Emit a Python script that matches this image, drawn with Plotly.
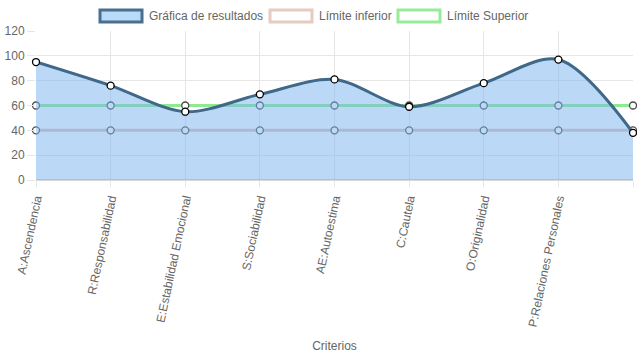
import plotly.graph_objects as go

categorias = ["A:Ascendencia", "R:Responsabilidad", "E:Estabilidad Emocional", "S:Sociabilidad",
              "AE:Autoestima", "C:Cautela", "O:Originalidad", "P:Relaciones Personales", "V:Vigor"]
resultados = [95, 76, 55, 69, 81, 59, 78, 97, 38]
limite_inferior = [40, 40, 40, 40, 40, 40, 40, 40, 40]
limite_superior = [60, 60, 60, 60, 60, 60, 60, 60, 60]
y_ticks = [0, 20, 40, 60, 80, 100, 120]
series_nombres = ["Gráfica de resultados", "Límite inferior", "Límite Superior"]

FONT = "Liberation Sans, Arial, sans-serif"
idx = list(range(len(categorias)))

W, H = 637, 359
ML, MR, MT, MB = 36, 4, 31, 179
PW, PH = W - ML - MR, H - MT - MB


def px_x(px):
    return (px - ML) / PW


def px_y(py):
    return (H - MB - py) / PH


fig = go.Figure()

lim_marker = dict(size=7, color="white", line=dict(color="#4a4a4a", width=1.3))

fig.add_trace(go.Scatter(
    x=idx, y=limite_inferior, name=series_nombres[1], mode="lines+markers",
    line=dict(color="rgb(222,192,178)", width=3), marker=lim_marker,
    cliponaxis=False, showlegend=False,
))
fig.add_trace(go.Scatter(
    x=idx, y=limite_superior, name=series_nombres[2], mode="lines+markers",
    line=dict(color="rgb(144,232,144)", width=3), marker=lim_marker,
    cliponaxis=False, showlegend=False,
))
fig.add_trace(go.Scatter(
    x=idx, y=resultados, name=series_nombres[0], mode="lines+markers",
    line=dict(color="#3f6889", width=3, shape="spline", smoothing=0.9),
    fill="tozeroy", fillcolor="rgba(120,180,240,0.5)",
    marker=dict(size=7, color="white", line=dict(color="black", width=1.3)),
    cliponaxis=False, showlegend=False,
))

# custom box-style legend (Chart.js look)
leg_items = [
    (series_nombres[0], "#4a7090", "#b9dbf7", 100, 142, 147),
    (series_nombres[1], "#e6cbbf", "white", 270, 312, 317),
    (series_nombres[2], "#98ec98", "white", 398, 440, 445),
]
shapes = []
annotations = []
for nm, border, fillc, x0, x1, tx in leg_items:
    shapes.append(dict(type="rect", xref="paper", yref="paper",
                       x0=px_x(x0), x1=px_x(x1), y0=px_y(22), y1=px_y(10),
                       line=dict(color=border, width=3), fillcolor=fillc, layer="above"))
    annotations.append(dict(text=nm, xref="paper", yref="paper", x=px_x(tx), y=px_y(16),
                            xanchor="left", yanchor="middle", showarrow=False,
                            font=dict(size=12, color="#666", family=FONT)))

fig.update_layout(
    width=W, height=H,
    margin=dict(l=ML, r=MR, t=MT, b=MB, autoexpand=False),
    paper_bgcolor="white", plot_bgcolor="white",
    font=dict(family=FONT, size=12, color="#666"),
    showlegend=False,
    shapes=shapes, annotations=annotations,
    hovermode=False,
)
fig.update_xaxes(
    range=[0, 8], tickvals=idx, ticktext=categorias, tickangle=-78,
    showgrid=True, gridcolor="#e6e6e6", gridwidth=1,
    ticks="outside", ticklen=6, tickcolor="#e6e6e6",
    showline=True, linecolor="#d9d9d9", linewidth=1, zeroline=False,
    title=dict(text="Criterios", font=dict(size=12, color="#666"), standoff=14),
    automargin=False,
)
fig.update_yaxes(
    range=[0, 120], tickvals=y_ticks,
    showgrid=True, gridcolor="#e6e6e6", gridwidth=1,
    zeroline=True, zerolinecolor="#d0d0d0", zerolinewidth=1.5,
    ticks="outside", ticklen=8, tickcolor="#e6e6e6",
    automargin=False,
)

fig.write_html(
    "out.html",
    config={"displayModeBar": False, "staticPlot": True},
    post_script="document.body.style.margin='0';document.body.style.overflow='hidden';",
)
